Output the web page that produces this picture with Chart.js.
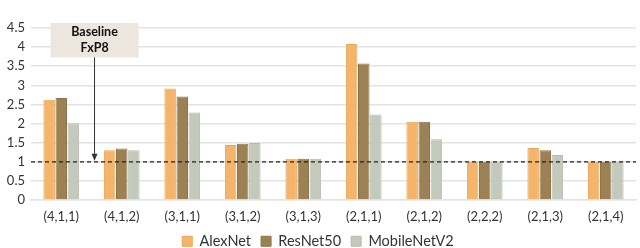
<!DOCTYPE html>
<html>
<head>
<meta charset="utf-8">
<script src="https://cdn.jsdelivr.net/npm/chart.js@4/dist/chart.umd.min.js"></script>
<style>
  html, body { margin: 0; padding: 0; background: #fff; }
  #wrap { width: 640px; height: 248px; }
</style>
</head>
<body>
<div id="wrap"><canvas id="myBarChart"></canvas></div>
<script>
var categories = ['(4,1,1)', '(4,1,2)', '(3,1,1)', '(3,1,2)', '(3,1,3)', '(2,1,1)', '(2,1,2)', '(2,2,2)', '(2,1,3)', '(2,1,4)'];
var alexNet     = [2.62, 1.30, 2.92, 1.44, 1.08, 4.08, 2.05, 1.00, 1.36, 1.00];
var resNet50    = [2.67, 1.35, 2.71, 1.47, 1.08, 3.57, 2.05, 1.00, 1.30, 1.00];
var mobileNetV2 = [2.01, 1.30, 2.29, 1.49, 1.08, 2.24, 1.59, 1.00, 1.18, 1.00];
var baselineValue = 1;
var baselineText = ['Baseline', 'FxP8'];

var fontFamily = 'Lato, "Open Sans", sans-serif';

// dashed baseline + the "Baseline FxP8" callout
var baselinePlugin = {
    id: 'baseline',
    afterDatasetsDraw: function(chart) {
        var c = chart.ctx;
        var area = chart.chartArea;
        var x = chart.scales.x;
        var y = chart.scales.y;
        var yb = y.getPixelForValue(baselineValue);

        c.save();
        c.strokeStyle = '#222';
        c.lineWidth = 1.3;
        c.setLineDash([4, 3]);
        c.beginPath();
        c.moveTo(area.left, yb);
        c.lineTo(area.right, yb);
        c.stroke();
        c.setLineDash([]);

        var cx = x.getPixelForValue(0.55);
        var boxTop = y.getPixelForValue(4.63);
        var boxBottom = y.getPixelForValue(3.73);
        var boxW = 88;
        c.fillStyle = '#ede6df';
        c.fillRect(cx - boxW / 2, boxTop, boxW, boxBottom - boxTop);

        c.strokeStyle = '#333';
        c.lineWidth = 1;
        c.beginPath();
        c.moveTo(cx, boxBottom);
        c.lineTo(cx, yb - 2);
        c.stroke();
        c.fillStyle = '#333';
        c.beginPath();
        c.moveTo(cx, yb - 1);
        c.lineTo(cx - 3, yb - 8);
        c.lineTo(cx + 3, yb - 8);
        c.closePath();
        c.fill();

        c.fillStyle = '#111';
        c.font = 'bold 12.5px ' + fontFamily;
        c.textAlign = 'center';
        c.textBaseline = 'middle';
        var mid = (boxTop + boxBottom) / 2;
        c.fillText(baselineText[0], cx, mid - 8);
        c.fillText(baselineText[1], cx, mid + 8);
        c.restore();
    }
};

var ctx = document.getElementById('myBarChart').getContext('2d');
var myBarChart = new Chart(ctx, {
    type: 'bar',
    data: {
        labels: categories,
        datasets: [{
            label: 'AlexNet',
            data: alexNet,
            backgroundColor: '#f4b46a',
            borderColor: '#e8a65c',
            borderWidth: 1
        }, {
            label: 'ResNet50',
            data: resNet50,
            backgroundColor: '#9c8155',
            borderColor: '#8e744a',
            borderWidth: 1
        }, {
            label: 'MobileNetV2',
            data: mobileNetV2,
            backgroundColor: '#c3c9bb',
            borderColor: '#b6bcae',
            borderWidth: 1
        }]
    },
    options: {
        responsive: true,
        maintainAspectRatio: false,
        animation: false,
        layout: { padding: { top: 28, right: 4, left: 0, bottom: -10.5 } },
        plugins: {
            legend: {
                position: 'bottom',
                labels: {
                    boxWidth: 10,
                    boxHeight: 10,
                    padding: 10,
                    color: '#333',
                    font: { family: fontFamily, size: 14.5, lineHeight: 1.12 }
                }
            },
            tooltip: { enabled: false }
        },
        datasets: {
            bar: { categoryPercentage: 0.6, barPercentage: 0.95 }
        },
        scales: {
            y: {
                min: 0,
                max: 4.5,
                afterFit: function(scale) { scale.width = 31; },
                ticks: {
                    stepSize: 0.5,
                    autoSkip: false,
                    color: '#333',
                    padding: 6,
                    font: { family: fontFamily, size: 13 },
                    callback: function(v) { return String(v); }
                },
                grid: { color: '#e3e3e3', lineWidth: 1.5, drawTicks: false },
                border: { display: false }
            },
            x: {
                afterFit: function(scale) { scale.height = 24; },
                ticks: {
                    color: '#333',
                    padding: 9,
                    maxRotation: 0,
                    font: { family: fontFamily, size: 13 }
                },
                grid: { display: false, drawTicks: false },
                border: { color: '#e3e3e3', width: 1.5 }
            }
        }
    },
    plugins: [baselinePlugin]
});
</script>
</body>
</html>
